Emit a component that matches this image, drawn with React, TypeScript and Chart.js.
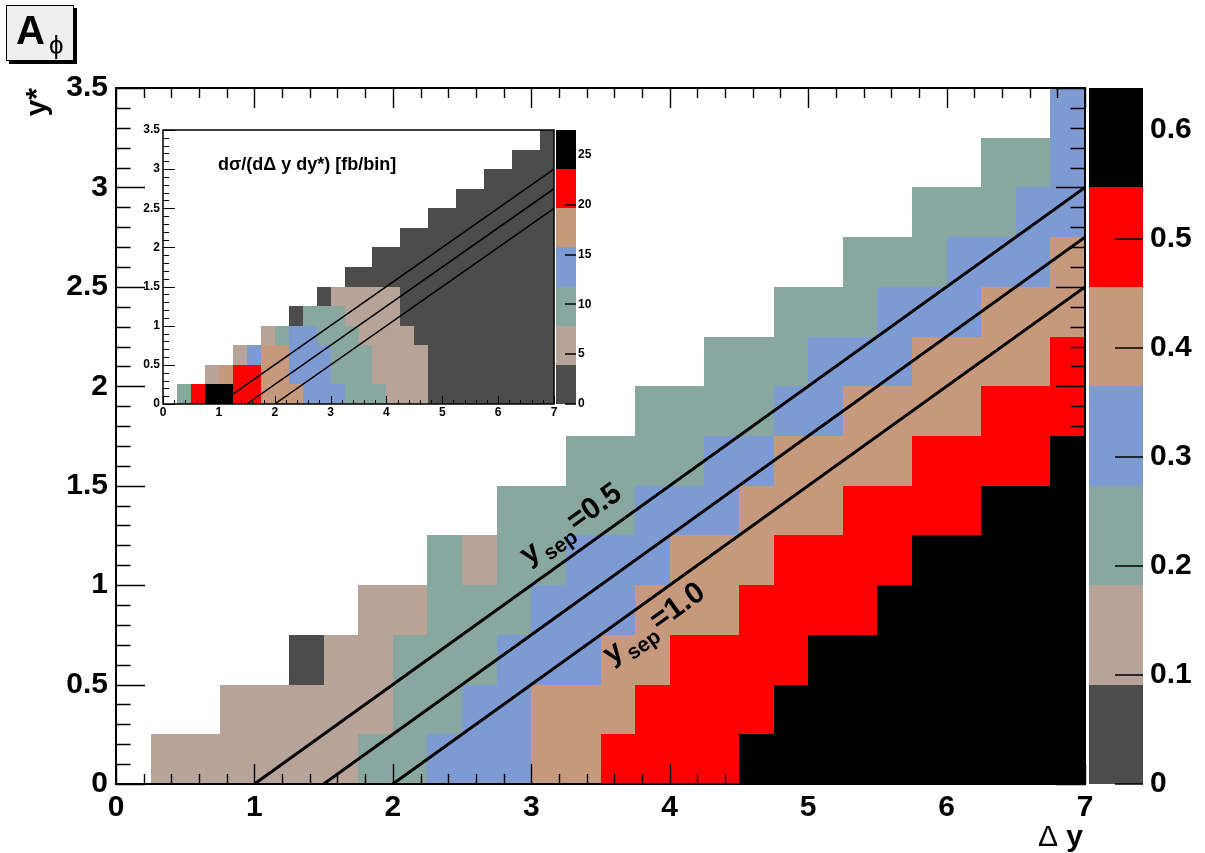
import React, { useEffect, useRef } from "react";
import { Chart, registerables } from "chart.js";

Chart.register(...registerables);

const FONT = "'Liberation Sans', Arial, Helvetica, sans-serif";
const _ = null;

// ---------- data ----------
const BIN = 0.25; // bin width in Δy and y*
const X_TICKS = [0, 1, 2, 3, 4, 5, 6, 7];
const X_TICK_LABELS = ["0", "1", "2", "3", "4", "5", "6", "7"];
const Y_TICKS = [0, 0.5, 1, 1.5, 2, 2.5, 3, 3.5];
const Y_TICK_LABELS = ["0", "0.5", "1", "1.5", "2", "2.5", "3", "3.5"];

const A_PHI_MAX = 0.638;
const A_PHI_TICKS = [0, 0.1, 0.2, 0.3, 0.4, 0.5, 0.6];
const A_PHI_TICK_LABELS = ["0", "0.1", "0.2", "0.3", "0.4", "0.5", "0.6"];

const XSEC_MAX = 27.5;
const XSEC_TICKS = [0, 5, 10, 15, 20, 25];
const XSEC_TICK_LABELS = ["0", "5", "10", "15", "20", "25"];

const PALETTE = ["#4c4c4c", "#b7a398", "#88a89f", "#7d9ad3", "#c7997c", "#ff0000", "#000000"];

// A_phi per (y* row, Δy column); rows bottom (y*=0) to top, 28 columns of 0.25
const A_PHI: (number | null)[][] = [
  [_, .14, .14, .14, .14, .14, .14, .23, .23, .32, .32, .32, .41, .41, .5, .5, .5, .5, .6, .6, .6, .6, .6, .6, .6, .6, .6, .6],
  [_, _, _, .14, .14, .14, .14, .14, .23, .23, .32, .32, .41, .41, .41, .5, .5, .5, .5, .6, .6, .6, .6, .6, .6, .6, .6, .6],
  [_, _, _, _, _, .05, .14, .14, .23, .23, .23, .32, .32, .32, .41, .41, .5, .5, .5, .5, .6, .6, .6, .6, .6, .6, .6, .6],
  [_, _, _, _, _, _, _, .14, .14, .23, .23, .23, .32, .32, .32, .41, .41, .41, .5, .5, .5, .5, .6, .6, .6, .6, .6, .6],
  [_, _, _, _, _, _, _, _, _, .23, .14, .23, .23, .32, .32, .32, .41, .41, .41, .5, .5, .5, .5, .6, .6, .6, .6, .6],
  [_, _, _, _, _, _, _, _, _, _, _, .23, .23, .23, .23, .32, .32, .32, .41, .41, .41, .5, .5, .5, .5, .6, .6, .6],
  [_, _, _, _, _, _, _, _, _, _, _, _, _, .23, .23, .23, .23, .32, .32, .41, .41, .41, .41, .5, .5, .5, .5, .6],
  [_, _, _, _, _, _, _, _, _, _, _, _, _, _, _, .23, .23, .23, .23, .32, .32, .41, .41, .41, .41, .5, .5, .5],
  [_, _, _, _, _, _, _, _, _, _, _, _, _, _, _, _, _, .23, .23, .23, .32, .32, .32, .41, .41, .41, .41, .5],
  [_, _, _, _, _, _, _, _, _, _, _, _, _, _, _, _, _, _, _, .23, .23, .23, .32, .32, .32, .41, .41, .41],
  [_, _, _, _, _, _, _, _, _, _, _, _, _, _, _, _, _, _, _, _, _, .23, .23, .23, .32, .32, .32, .41],
  [_, _, _, _, _, _, _, _, _, _, _, _, _, _, _, _, _, _, _, _, _, _, _, .23, .23, .23, .32, .32],
  [_, _, _, _, _, _, _, _, _, _, _, _, _, _, _, _, _, _, _, _, _, _, _, _, _, .23, .23, .32],
  [_, _, _, _, _, _, _, _, _, _, _, _, _, _, _, _, _, _, _, _, _, _, _, _, _, _, _, .32],
];

// dσ/(dΔy dy*) [fb/bin] per (y* row, Δy column)
const XSEC: (number | null)[][] = [
  [_, 10, 22, 25.5, 25.5, 22, 22, 18, 18, 18, 14, 14, 14, 10, 10, 10, 6, 6, 6, 2, 2, 2, 2, 2, 2, 2, 2, 2],
  [_, _, _, 6, 18, 22, 22, 18, 18, 14, 14, 14, 10, 10, 10, 6, 6, 6, 6, 2, 2, 2, 2, 2, 2, 2, 2, 2],
  [_, _, _, _, _, 6, 14, 18, 18, 14, 14, 14, 10, 10, 10, 6, 6, 6, 6, 2, 2, 2, 2, 2, 2, 2, 2, 2],
  [_, _, _, _, _, _, _, 6, 10, 14, 14, 10, 10, 10, 6, 6, 6, 6, 2, 2, 2, 2, 2, 2, 2, 2, 2, 2],
  [_, _, _, _, _, _, _, _, _, 2, 10, 10, 10, 6, 6, 6, 6, 2, 2, 2, 2, 2, 2, 2, 2, 2, 2, 2],
  [_, _, _, _, _, _, _, _, _, _, _, 2, 6, 6, 6, 6, 6, 2, 2, 2, 2, 2, 2, 2, 2, 2, 2, 2],
  [_, _, _, _, _, _, _, _, _, _, _, _, _, 2, 2, 2, 2, 2, 2, 2, 2, 2, 2, 2, 2, 2, 2, 2],
  [_, _, _, _, _, _, _, _, _, _, _, _, _, _, _, 2, 2, 2, 2, 2, 2, 2, 2, 2, 2, 2, 2, 2],
  [_, _, _, _, _, _, _, _, _, _, _, _, _, _, _, _, _, 2, 2, 2, 2, 2, 2, 2, 2, 2, 2, 2],
  [_, _, _, _, _, _, _, _, _, _, _, _, _, _, _, _, _, _, _, 2, 2, 2, 2, 2, 2, 2, 2, 2],
  [_, _, _, _, _, _, _, _, _, _, _, _, _, _, _, _, _, _, _, _, _, 2, 2, 2, 2, 2, 2, 2],
  [_, _, _, _, _, _, _, _, _, _, _, _, _, _, _, _, _, _, _, _, _, _, _, 2, 2, 2, 2, 2],
  [_, _, _, _, _, _, _, _, _, _, _, _, _, _, _, _, _, _, _, _, _, _, _, _, _, 2, 2, 2],
  [_, _, _, _, _, _, _, _, _, _, _, _, _, _, _, _, _, _, _, _, _, _, _, _, _, _, _, 2],
];

// y_sep lines: y* = (Δy - c)/2 ; start and end points
const SEP_MAIN_START = [[1, 0], [1.5, 0], [2, 0]];
const SEP_INSET_START = [[1.25, 0.125], [1.5, 0], [2, 0]];
const SEP_END = [[7, 3], [7, 2.75], [7, 2.5]];
const SEP_LABELS = ["0.5", "1.0"];
const SEP_LABEL_POS = [[2.98, 1.1], [3.58, 0.6]];

// ---------- layout ----------
const W = 1205, H = 853;
const INSET = { left: 130, top: 120, width: 480, height: 300 };

// ---------- helpers ----------
function levelColor(v: number, zMax: number) {
  const n = PALETTE.length;
  const k = Math.min(n - 1, Math.max(0, Math.floor(v / (zMax / n))));
  return PALETTE[k];
}

function drawCells(chart: any, values: (number | null)[][], zMax: number) {
  const { ctx, scales } = chart;
  const xs = scales.x, ys = scales.y;
  ctx.save();
  values.forEach((row, j) => {
    row.forEach((v, i) => {
      if (v === null) return;
      const x0 = Math.round(xs.getPixelForValue(i * BIN));
      const x1 = Math.round(xs.getPixelForValue((i + 1) * BIN));
      const y0 = Math.round(ys.getPixelForValue((j + 1) * BIN));
      const y1 = Math.round(ys.getPixelForValue(j * BIN));
      ctx.fillStyle = levelColor(v, zMax);
      ctx.fillRect(x0, y0, x1 - x0, y1 - y0);
    });
  });
  ctx.restore();
}

function drawColorbar(chart: any, left: number, right: number, zMax: number, ticks: number[], tickLen: number) {
  const { ctx } = chart;
  const zs = chart.scales.z;
  const n = PALETTE.length;
  const step = zMax / n;
  ctx.save();
  for (let k = 0; k < n; k++) {
    const yt = Math.round(zs.getPixelForValue((k + 1) * step));
    const yb = Math.round(zs.getPixelForValue(k * step));
    ctx.fillStyle = PALETTE[k];
    ctx.fillRect(left, yt, right - left, yb - yt);
  }
  ctx.strokeStyle = "#000";
  ctx.lineWidth = 1.5;
  ctx.beginPath();
  ticks.forEach((v) => {
    const y = Math.round(zs.getPixelForValue(v));
    ctx.moveTo(right - tickLen, y);
    ctx.lineTo(right, y);
  });
  ctx.stroke();
  ctx.restore();
}

function drawTicksFrame(chart: any, cfg: { xLen: number; yLen: number; mirror: boolean; frame: number; lw: number }) {
  const { ctx, chartArea: a, scales } = chart;
  const xs = scales.x, ys = scales.y;
  ctx.save();
  ctx.strokeStyle = "#000";
  ctx.lineWidth = cfg.lw;
  ctx.beginPath();
  for (let k = 0; k <= 35; k++) {
    const px = Math.round(xs.getPixelForValue(k * 0.2)) + 0.5;
    const len = k % 5 === 0 ? cfg.xLen : cfg.xLen / 2;
    ctx.moveTo(px, a.bottom);
    ctx.lineTo(px, a.bottom - len);
    if (cfg.mirror) {
      ctx.moveTo(px, a.top);
      ctx.lineTo(px, a.top + len);
    }
  }
  for (let k = 0; k <= 35; k++) {
    const py = Math.round(ys.getPixelForValue(k * 0.1)) + 0.5;
    const len = k % 5 === 0 ? cfg.yLen : cfg.yLen / 2;
    ctx.moveTo(a.left, py);
    ctx.lineTo(a.left + len, py);
    if (cfg.mirror) {
      ctx.moveTo(a.right, py);
      ctx.lineTo(a.right - len, py);
    }
  }
  ctx.stroke();
  ctx.lineWidth = cfg.frame;
  ctx.strokeRect(a.left, a.top, a.right - a.left, a.bottom - a.top);
  ctx.restore();
}

function sepDatasets(starts: number[][], width: number) {
  return starts.map((s, i) => ({
    type: "line" as const,
    data: [
      { x: s[0], y: s[1] },
      { x: SEP_END[i][0], y: SEP_END[i][1] },
    ],
    borderColor: "#000",
    borderWidth: width,
    pointRadius: 0,
    showLine: true,
    fill: false,
    tension: 0,
  }));
}

function tickScale(values: number[], labels: string[], fontSize: number, padding: number, size: number, extra: any) {
  return {
    type: "linear" as const,
    grid: { display: false, drawTicks: false },
    border: { display: false },
    afterBuildTicks: (s: any) => {
      s.ticks = values.map((v) => ({ value: v }));
    },
    afterFit: (s: any) => {
      if (s.isHorizontal()) s.height = size;
      else s.width = size;
      s.paddingTop = 0;
      s.paddingBottom = 0;
      s.paddingLeft = 0;
      s.paddingRight = 0;
    },
    ticks: {
      autoSkip: false,
      maxRotation: 0,
      color: "#000",
      padding,
      font: { family: FONT, size: fontSize, weight: "bold" as const },
      callback: (_v: any, i: number) => labels[i],
    },
    ...extra,
  };
}

// ---------- plugins ----------
const mainPlugin = {
  id: "mainDecor",
  beforeDatasetsDraw(chart: any) {
    drawCells(chart, A_PHI, A_PHI_MAX);
    drawColorbar(chart, 1089, 1143, A_PHI_MAX, A_PHI_TICKS, 28);
  },
  afterDatasetsDraw(chart: any) {
    drawTicksFrame(chart, { xLen: 20, yLen: 29, mirror: true, frame: 2, lw: 1.4 });
    const { ctx, scales } = chart;
    const xs = scales.x, ys = scales.y;
    const dx = xs.getPixelForValue(7) - xs.getPixelForValue(1);
    const dy = ys.getPixelForValue(0) - ys.getPixelForValue(3);
    const ang = Math.atan2(dy, dx);
    SEP_LABELS.forEach((lab, i) => {
      const px = xs.getPixelForValue(SEP_LABEL_POS[i][0]);
      const py = ys.getPixelForValue(SEP_LABEL_POS[i][1]);
      ctx.save();
      ctx.translate(px, py);
      ctx.rotate(-ang);
      ctx.fillStyle = "#000";
      ctx.textAlign = "left";
      ctx.textBaseline = "alphabetic";
      ctx.font = `bold 30px ${FONT}`;
      ctx.fillText("y", 0, 0);
      let w = ctx.measureText("y").width + 3;
      ctx.font = `bold 21px ${FONT}`;
      ctx.fillText("sep", w, 9);
      w += ctx.measureText("sep").width + 2;
      ctx.font = `bold 30px ${FONT}`;
      ctx.fillText("=" + lab, w, 0);
      ctx.restore();
    });
  },
  afterDraw(chart: any) {
    const { ctx } = chart;
    ctx.save();
    // title box A_phi
    ctx.fillStyle = "#000";
    ctx.fillRect(9, 8, 68, 56);
    ctx.fillStyle = "#efefef";
    ctx.fillRect(6, 5, 68, 56);
    ctx.strokeStyle = "#000";
    ctx.lineWidth = 1;
    ctx.strokeRect(6.5, 5.5, 67, 55);
    ctx.fillStyle = "#000";
    ctx.textAlign = "left";
    ctx.textBaseline = "alphabetic";
    ctx.font = `bold 40px ${FONT}`;
    ctx.fillText("A", 16, 44);
    ctx.font = `26px ${FONT}`;
    ctx.fillText("ϕ", 49, 54);
    // y axis title
    ctx.save();
    ctx.translate(46, 88);
    ctx.rotate(-Math.PI / 2);
    ctx.textAlign = "right";
    ctx.font = `bold 30px ${FONT}`;
    ctx.fillText("y*", 0, 0);
    ctx.restore();
    // x axis title
    ctx.textAlign = "right";
    ctx.font = `bold 30px ${FONT}`;
    const wy = ctx.measureText("y").width;
    ctx.fillText("y", 1083, 846);
    ctx.font = `30px ${FONT}`;
    ctx.fillText("Δ ", 1083 - wy, 846);
    ctx.restore();
  },
};

const insetPlugin = {
  id: "insetDecor",
  beforeDatasetsDraw(chart: any) {
    drawCells(chart, XSEC, XSEC_MAX);
    drawColorbar(chart, 556 - INSET.left, 576 - INSET.left, XSEC_MAX, XSEC_TICKS, 11);
  },
  afterDatasetsDraw(chart: any) {
    drawTicksFrame(chart, { xLen: 8, yLen: 12, mirror: false, frame: 1.5, lw: 1 });
    const { ctx } = chart;
    ctx.save();
    ctx.fillStyle = "#000";
    ctx.textAlign = "left";
    ctx.textBaseline = "alphabetic";
    ctx.font = `bold 18px ${FONT}`;
    ctx.fillText("dσ/(dΔ y dy*) [fb/bin]", 218 - INSET.left, 170 - INSET.top);
    ctx.restore();
  },
};

export default function App() {
  const mainRef = useRef<HTMLCanvasElement>(null);
  const insetRef = useRef<HTMLCanvasElement>(null);

  useEffect(() => {
    const main = new Chart(mainRef.current as HTMLCanvasElement, {
      type: "scatter",
      data: { datasets: sepDatasets(SEP_MAIN_START, 3) as any },
      options: {
        responsive: false,
        animation: false,
        devicePixelRatio: 1,
        layout: { padding: { top: 88, left: 0, right: 0, bottom: 0 } },
        plugins: { legend: { display: false }, tooltip: { enabled: false } },
        scales: {
          x: tickScale(X_TICKS, X_TICK_LABELS, 30, 6, H - 784, { min: 0, max: 7, position: "bottom" }),
          y: tickScale(Y_TICKS, Y_TICK_LABELS, 30, 8, 116, { min: 0, max: 3.5, position: "left" }),
          z: tickScale(A_PHI_TICKS, A_PHI_TICK_LABELS, 30, 65, W - 1085, { min: 0, max: A_PHI_MAX, position: "right" }),
        } as any,
      },
      plugins: [mainPlugin],
    });

    const inset = new Chart(insetRef.current as HTMLCanvasElement, {
      type: "scatter",
      data: { datasets: sepDatasets(SEP_INSET_START, 1.5) as any },
      options: {
        responsive: false,
        animation: false,
        devicePixelRatio: 1,
        layout: { padding: { top: 130 - INSET.top, left: 0, right: 0, bottom: 0 } },
        plugins: { legend: { display: false }, tooltip: { enabled: false } },
        scales: {
          x: tickScale(X_TICKS, X_TICK_LABELS, 12, 1, INSET.height - (404 - INSET.top), { min: 0, max: 7, position: "bottom" }),
          y: tickScale(Y_TICKS, Y_TICK_LABELS, 12, 3, 163 - INSET.left, { min: 0, max: 3.5, position: "left" }),
          z: tickScale(XSEC_TICKS, XSEC_TICK_LABELS, 12, 24, INSET.width - (554 - INSET.left), { min: 0, max: XSEC_MAX, position: "right" }),
        } as any,
      },
      plugins: [insetPlugin],
    });

    return () => {
      main.destroy();
      inset.destroy();
    };
  }, []);

  return (
    <div style={{ position: "fixed", left: 0, top: 0, width: W, height: H, background: "#fff", overflow: "hidden" }}>
      <canvas ref={mainRef} width={W} height={H} style={{ position: "absolute", left: 0, top: 0, width: W, height: H }} />
      <canvas
        ref={insetRef}
        width={INSET.width}
        height={INSET.height}
        style={{ position: "absolute", left: INSET.left, top: INSET.top, width: INSET.width, height: INSET.height }}
      />
    </div>
  );
}
